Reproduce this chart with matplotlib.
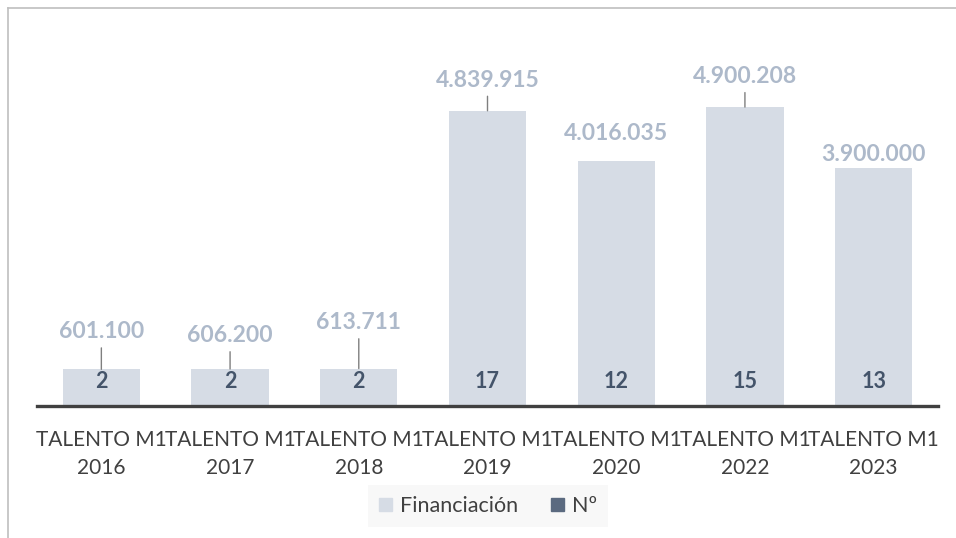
import matplotlib.pyplot as plt
from matplotlib.patches import Patch
from matplotlib.lines import Line2D

categories = ["TALENTO M1\n2016", "TALENTO M1\n2017", "TALENTO M1\n2018", "TALENTO M1\n2019",
              "TALENTO M1\n2020", "TALENTO M1\n2022", "TALENTO M1\n2023"]
financiacion = [601100, 606200, 613711, 4839915, 4016035, 4900208, 3900000]
numero = [2, 2, 2, 17, 12, 15, 13]

# label placement (points above bar top) and whether a leader line is drawn
label_offsets = [27, 24, 33, 22, 20, 22, 9.5]
leaders = [True, True, True, True, False, True, False]

BAR = '#D6DCE5'
LABEL = '#ADB9CA'
NUM_TXT = '#44546A'
NUM_PATCH = '#5B6A80'
TXT = '#404040'

plt.rcParams['font.family'] = ['Lato', 'DejaVu Sans']

W, H = 956, 538
fig = plt.figure(figsize=(W / 100, H / 100), dpi=100)
ax = fig.add_axes([37 / W, 1 - 406 / H, (938 - 37) / W, (406 - 40) / H])

x = list(range(len(categories)))
ax.bar(x, financiacion, width=0.6, color=BAR, zorder=2)
ax.bar(x, numero, width=0.6, color=NUM_PATCH, zorder=2)

def fmt(v):
    return f"{v:,}".replace(",", ".")

for i, v in enumerate(financiacion):
    arrow = dict(arrowstyle='-', color='#7F7F7F', lw=1, shrinkA=2, shrinkB=0) if leaders[i] else None
    ax.annotate(fmt(v), xy=(i, v), xytext=(0, label_offsets[i]), textcoords='offset points',
                ha='center', va='center', fontsize=16.5, fontweight='bold', color=LABEL,
                arrowprops=arrow, zorder=3)

for i, n in enumerate(numero):
    ax.annotate(str(n), xy=(i, 0), xytext=(0, 18), textcoords='offset points',
                ha='center', va='center', fontsize=15.5, fontweight='bold', color=NUM_TXT, zorder=3)

ax.set_xlim(-0.5, len(categories) - 0.5)
ax.set_ylim(0, 6000000)
ax.set_yticks([])
ax.set_xticks(x)
ax.set_xticklabels(categories, fontsize=15, color=TXT, linespacing=1.5)
ax.tick_params(axis='x', length=0, pad=17)
for s in ['top', 'left', 'right']:
    ax.spines[s].set_visible(False)
ax.spines['bottom'].set_color(TXT)
ax.spines['bottom'].set_linewidth(2.4)

handles = [Patch(color=BAR, label='Financiación'), Patch(color=NUM_PATCH, label='Nº')]
leg = fig.legend(handles=handles, loc='center', bbox_to_anchor=(488 / W, 1 - 506 / H), ncol=2,
                 fontsize=15.5, frameon=True, facecolor='#F8F8F8', edgecolor='none', fancybox=False,
                 handlelength=0.6, handleheight=0.6, handletextpad=0.4, columnspacing=1.5,
                 borderpad=0.5, labelcolor=TXT)
leg.get_frame().set_alpha(1)

# chart outer border (top and left only visible)
fig.add_artist(Line2D([7.5 / W, 1], [1 - 7.5 / H, 1 - 7.5 / H], color='#BFBFBF', lw=1.2))
fig.add_artist(Line2D([7.5 / W, 7.5 / W], [0, 1 - 7.5 / H], color='#BFBFBF', lw=1.2))

fig.savefig('out.png', dpi=100, facecolor='white')
